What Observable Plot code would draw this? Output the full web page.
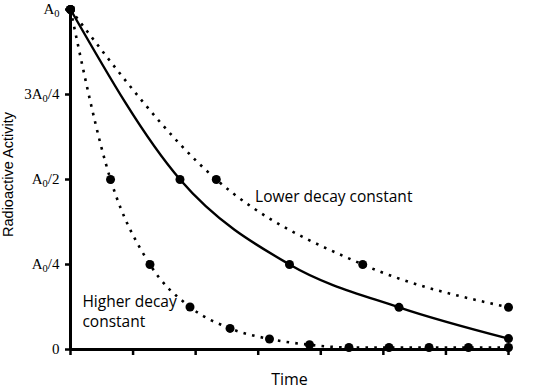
<!DOCTYPE html>
<html><head><meta charset="utf-8">
<script src="https://cdn.jsdelivr.net/npm/d3@7"></script>
<script src="https://cdn.jsdelivr.net/npm/@observablehq/plot@0.6"></script>
<style>body{margin:0;background:#fff}</style>
</head><body><div id="chart"></div>
<script>
const middleT = [0, 1.75, 3.5, 5.25, 7];
const middleA = [1, 0.5, 0.25, 0.124, 0.032];
const lowerT = [0, 2.33, 4.67, 7];
const lowerA = [1, 0.5, 0.25, 0.124];
const higherT = [0, 0.64, 1.27, 1.91, 2.55, 3.18, 3.82, 4.45, 5.09, 5.73, 6.36, 7];
const higherA = [1, 0.5, 0.25, 0.125, 0.062, 0.031, 0.014, 0.006, 0.006, 0.006, 0.006, 0.006];
const yTicks = [0, 0.25, 0.5, 0.75, 1];
const yTickLabels = ["0", "A₀/4", "A₀/2", "3A₀/4", "A₀"];
const xTicks = [0, 1, 2, 3, 4, 5, 6, 7];
const notes = [
  {t: 2.95, a: 0.447, text: "Lower decay constant"},
  {t: 0.19, a: 0.141, text: "Higher decay"},
  {t: 0.19, a: 0.082, text: "constant"}
];

const mid = middleT.map((t, i) => ({t, a: middleA[i]}));
const low = lowerT.map((t, i) => ({t, a: lowerA[i]}));
const high = higherT.map((t, i) => ({t, a: higherA[i]}));

const chart = Plot.plot({
  width: 535, height: 391,
  marginLeft: 70, marginRight: 27, marginTop: 9, marginBottom: 42,
  style: {fontFamily: "Open Sans", background: "#fff", color: "#000"},
  x: {domain: [0, 7], label: null},
  y: {domain: [0, 1], label: null},
  marks: [
    Plot.axisX({ticks: xTicks, tickFormat: () => "", tickSize: 6, strokeWidth: 2.5, label: null}),
    Plot.axisY({ticks: yTicks, tickFormat: d => yTickLabels[yTicks.indexOf(d)], tickSize: 5, tickPadding: 6, strokeWidth: 2.5, fontFamily: "Liberation Serif", fontSize: 15, label: null}),
    Plot.line(low, {x: "t", y: "a", curve: "monotone-x", stroke: "#000", strokeWidth: 2.6, strokeDasharray: "2.6,6.2", strokeLinecap: "butt"}),
    Plot.line(high, {x: "t", y: "a", curve: "monotone-x", stroke: "#000", strokeWidth: 2.6, strokeDasharray: "2.6,6.2", strokeLinecap: "butt"}),
    Plot.line(mid, {x: "t", y: "a", curve: "monotone-x", stroke: "#000", strokeWidth: 2.4}),
    Plot.dot(low, {x: "t", y: "a", r: 4.5, fill: "#000"}),
    Plot.dot(high, {x: "t", y: "a", r: 4.5, fill: "#000"}),
    Plot.dot(mid, {x: "t", y: "a", r: 4.5, fill: "#000"}),
    Plot.ruleY([0], {stroke: "#000", strokeWidth: 3}),
    Plot.ruleX([0], {stroke: "#000", strokeWidth: 3, y1: 0, y2: 1.01}),
    Plot.text(notes, {x: "t", y: "a", text: "text", textAnchor: "start", fontSize: 15.5, fill: "#000"}),
    Plot.text(["Time"], {frameAnchor: "bottom", dy: 35, fontSize: 16, fill: "#000"}),
    Plot.text(["Radioactive Activity"], {frameAnchor: "left", textAnchor: "middle", dx: -62, dy: -5, rotate: -90, fontSize: 14.5, fontFamily: "Liberation Sans", fill: "#000"})
  ]
});
// render subscript zeros as real tspans
chart.querySelectorAll('g[aria-label="y-axis tick label"] text').forEach(t => {
  const s = t.textContent;
  if (!s.includes("₀")) return;
  const [pre, post] = s.split("₀");
  t.textContent = "";
  const ns = "http://www.w3.org/2000/svg";
  const a = document.createElementNS(ns, "tspan"); a.textContent = pre; t.appendChild(a);
  const b = document.createElementNS(ns, "tspan"); b.textContent = "0"; b.setAttribute("dy", "3"); b.setAttribute("font-size", "10.5"); t.appendChild(b);
  if (post) { const c = document.createElementNS(ns, "tspan"); c.textContent = post; c.setAttribute("dy", "-3"); t.appendChild(c); }
});
document.getElementById("chart").append(chart);
</script>
</body></html>
